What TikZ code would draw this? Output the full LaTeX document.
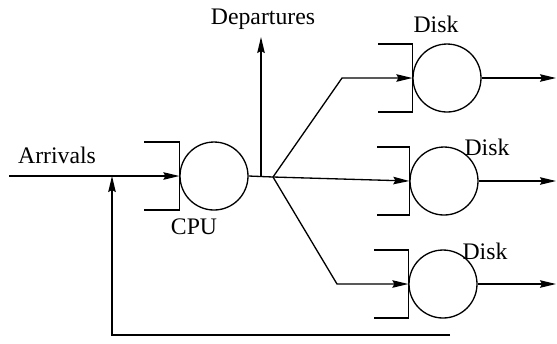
\documentclass[tikz,border=0pt]{standalone}
\usepackage{fontspec}
\setmainfont{Liberation Serif}
\usepackage{tikz}
\usetikzlibrary{arrows.meta, positioning}

\begin{document}
\begin{tikzpicture}[
        x=0.02cm, y=-0.02cm,
        >={Stealth[length=0.32cm, width=0.15cm, inset=0.04cm]},
        line width=0.75pt,
        server/.style={circle, draw=black, minimum size=1.36cm, inner sep=0pt},
        lbl/.style={font=\fontsize{13.5}{16}\selectfont, inner sep=0pt},
        line/.style={->, black, line width=0.75pt}
    ]
        \useasboundingbox (0,0) rectangle (557,343);

        % ================= NODOS =================

        % Servidores
        \node[server] (cpu) at (214,176) {};
        \node[server] (d1) at (447,78) {};
        \node[server] (d2) at (444,181) {};
        \node[server] (d3) at (443,284) {};

        % Colas
        \draw (cpu.west) ++(-35,-34) -- ++(35,0) -- ++(0,68) -- ++(-35,0);
        \draw (d1.west) ++(-34,-34) -- ++(34,0) -- ++(0,68) -- ++(-34,0);
        \draw (d2.west) ++(-32,-34) -- ++(32,0) -- ++(0,68) -- ++(-32,0);
        \draw (d3.west) ++(-34,-34) -- ++(34,0) -- ++(0,68) -- ++(-34,0);

        % Puntos auxiliares
        \coordinate (arr) at (9,176);
        \coordinate (split) at (261,176);
        \coordinate (deptop) at (261,37);
        \coordinate (fork) at (273,177);
        \coordinate (b1) at (342,78);
        \coordinate (b3) at (337,284);
        \coordinate (out1) at (556,78);
        \coordinate (out2) at (556,181);
        \coordinate (out3) at (556,284);
        \coordinate (fbend) at (450,335);
        \coordinate (fbcorner) at (112,335);

        % ================= ARISTAS =================

        % Llegadas
        \draw[line] (arr) -- (cpu.west);

        % Salida de la CPU
        \draw (cpu.east) -- (fork);
        \draw[line] (split) -- (deptop);

        % Hacia los discos
        \draw[line] (fork) -- (b1) -- (d1.west);
        \draw[line] (fork) -- (d2.west);
        \draw[line] (fork) -- (b3) -- (d3.west);

        % Salidas de los discos
        \draw[line] (d1.east) -- (out1);
        \draw[line] (d2.east) -- (out2);
        \draw[line] (d3.east) -- (out3);

        % Realimentacion
        \draw[line] (fbend) -- (fbcorner) -- (fbcorner |- arr);

        % ================= ETIQUETAS =================
        \node[lbl] (arrlbl) at (57,155) {Arrivals};
        \node[lbl] (deplbl) at (263,19) {Departures};
        \node[lbl] (cpulbl) at (194,227) {CPU};
        \node[lbl] (d1lbl) at (436,24) {Disk};
        \node[lbl] (d2lbl) at (487,147) {Disk};
        \node[lbl] (d3lbl) at (485,251) {Disk};

    \end{tikzpicture}
\end{document}
